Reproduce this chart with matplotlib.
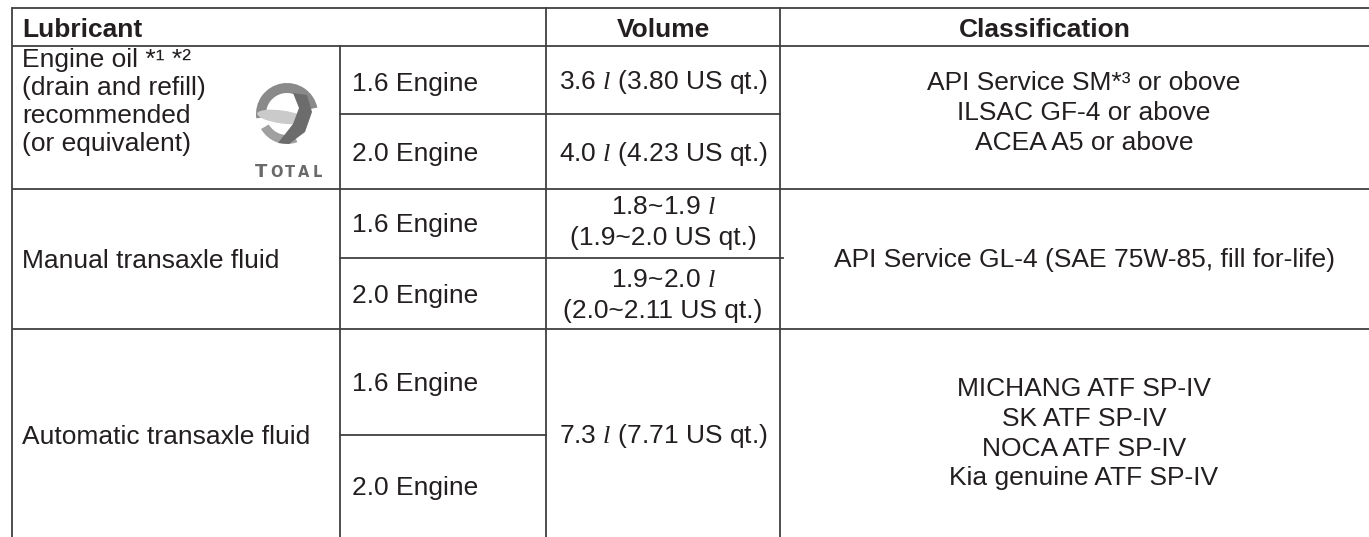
import matplotlib
matplotlib.use("Agg")
import matplotlib.pyplot as plt
from matplotlib.patches import Wedge, Ellipse, Polygon

plt.rcParams['font.family'] = ['Liberation Sans', 'DejaVu Sans']
plt.rcParams['mathtext.fontset'] = 'custom'
plt.rcParams['mathtext.rm'] = 'Liberation Sans'
plt.rcParams['mathtext.it'] = 'Liberation Serif:italic'

# ---------------- data ----------------
headers = ["Lubricant", "Volume", "Classification"]
lubricants = [
    ["Engine oil *¹ *²", "(drain and refill)", "recommended", "(or equivalent)"],
    ["Manual transaxle fluid"],
    ["Automatic transaxle fluid"],
]
engines = ["1.6 Engine", "2.0 Engine"]
volumes = [
    [["3.6 $l$ (3.80 US qt.)"], ["4.0 $l$ (4.23 US qt.)"]],
    [["1.8~1.9 $l$", "(1.9~2.0 US qt.)"], ["1.9~2.0 $l$", "(2.0~2.11 US qt.)"]],
    [["7.3 $l$ (7.71 US qt.)"]],
]
classifications = [
    ["API Service SM*³ or obove", "ILSAC GF-4 or above", "ACEA A5 or above"],
    ["API Service GL-4 (SAE 75W-85, fill for-life)"],
    ["MICHANG ATF SP-IV", "SK ATF SP-IV", "NOCA ATF SP-IV", "Kia genuine ATF SP-IV"],
]
logo_letters = ["T", "O", "T", "A", "L"]

# ---------------- layout ----------------
W, H = 1369, 537
fig = plt.figure(figsize=(W / 100, H / 100), dpi=100)
ax = fig.add_axes([0, 0, 1, 1])
ax.set_xlim(0, W)
ax.set_ylim(H, 0)
ax.axis('off')

LC = '#404040'
LW = 1.3
TC = '#231f20'
FS = 19
CAP = 9.5  # half cap height in px (baseline offset from visual centre)

x_left, x_eng, x_vol, x_cls = 12, 340, 546, 780
y_top, y_head = 8, 46
groups = [(46, 189, 114), (189, 329, 258), (329, H, 435)]

# horizontal lines
for y in [y_top, y_head, 189, 329]:
    ax.plot([x_left, W], [y, y], color=LC, lw=LW, solid_capstyle='butt')
ax.plot([x_eng, x_cls], [114, 114], color=LC, lw=LW)
ax.plot([x_eng, x_cls + 3], [258, 258], color=LC, lw=LW)
ax.plot([x_eng, x_vol], [435, 435], color=LC, lw=LW)
# vertical lines
for x, y0 in [(x_left, y_top), (x_eng, y_head), (x_vol, y_top), (x_cls, y_top)]:
    ax.plot([x, x], [y0, H], color=LC, lw=LW)


def put(x, yc, s, ha='left', **kw):
    ax.text(x, yc + CAP, s, fontsize=FS, color=TC, va='baseline', ha=ha, **kw)


# header
put(22, 27.5, headers[0], fontweight='bold')
put((x_vol + x_cls) / 2, 27.5, headers[1], ha='center', fontweight='bold')
put(1045, 27.5, headers[2], ha='center', fontweight='bold')

cls_cx = 1084
lub_centres = [None, 258, 434]
eng_offsets = [[1, 0], [-1, 0], [0, -1]]
vol_line_gap = 31
vol_centres = [[80, 152], [220.5, 293], [434]]
cls_centres = [111, 258, 431]
cls_gap = 30

for gi, (g0, g1, gs) in enumerate(groups):
    # lubricant name
    lines = lubricants[gi]
    if len(lines) > 1:
        for k, s in enumerate(lines):
            ax.text(22, 67 + 28 * k, s, fontsize=FS, color=TC, va='baseline', ha='left')
    else:
        put(22, lub_centres[gi], lines[0])
    # engines
    for ei, (c0, c1) in enumerate([(g0, gs), (gs, g1)]):
        put(352, (c0 + c1) / 2 + eng_offsets[gi][ei], engines[ei])
    # volumes
    for cy, vl in zip(vol_centres[gi], volumes[gi]):
        n = len(vl)
        for k, s in enumerate(vl):
            put((x_vol + x_cls) / 2, cy + (k - (n - 1) / 2) * vol_line_gap, s, ha='center')
    # classification
    cl = classifications[gi]
    n = len(cl)
    for k, s in enumerate(cl):
        put(cls_cx, cls_centres[gi] + (k - (n - 1) / 2) * cls_gap, s, ha='center')

# TOTAL logo (approximate swirl sphere)
cx, cy, r = 287, 114, 31
ax.add_patch(Wedge((cx, cy), r, 172, 348, width=10, facecolor='#8a8a8a', edgecolor='none'))
ax.add_patch(Wedge((cx, cy), r - 1, 70, 150, width=9, facecolor='#a0a0a0', edgecolor='none'))
ax.add_patch(Ellipse((cx - 5, cy + 3), 50, 13, angle=8, facecolor='#cacaca', edgecolor='none'))
ax.add_patch(Polygon([[cx + 6, cy - 21], [cx + 20, cy - 19], [cx + 25, cy - 2],
                      [cx + 18, cy + 18], [cx + 2, cy + 30], [cx - 9, cy + 29],
                      [cx + 6, cy + 10], [cx + 12, cy - 6]], closed=True,
                     facecolor='#6c6c6c', edgecolor='none'))
letter_x = [255, 270, 285, 298, 313]
letter_fs = [13, 10.5, 10.5, 10.5, 10.5]
for lx, lf, ch in zip(letter_x, letter_fs, logo_letters):
    ax.text(lx, 177, ch, fontsize=lf, fontweight='bold', color='#6a6a6a',
            va='baseline', ha='left', family='DejaVu Sans')

fig.savefig('out.png', dpi=100)
